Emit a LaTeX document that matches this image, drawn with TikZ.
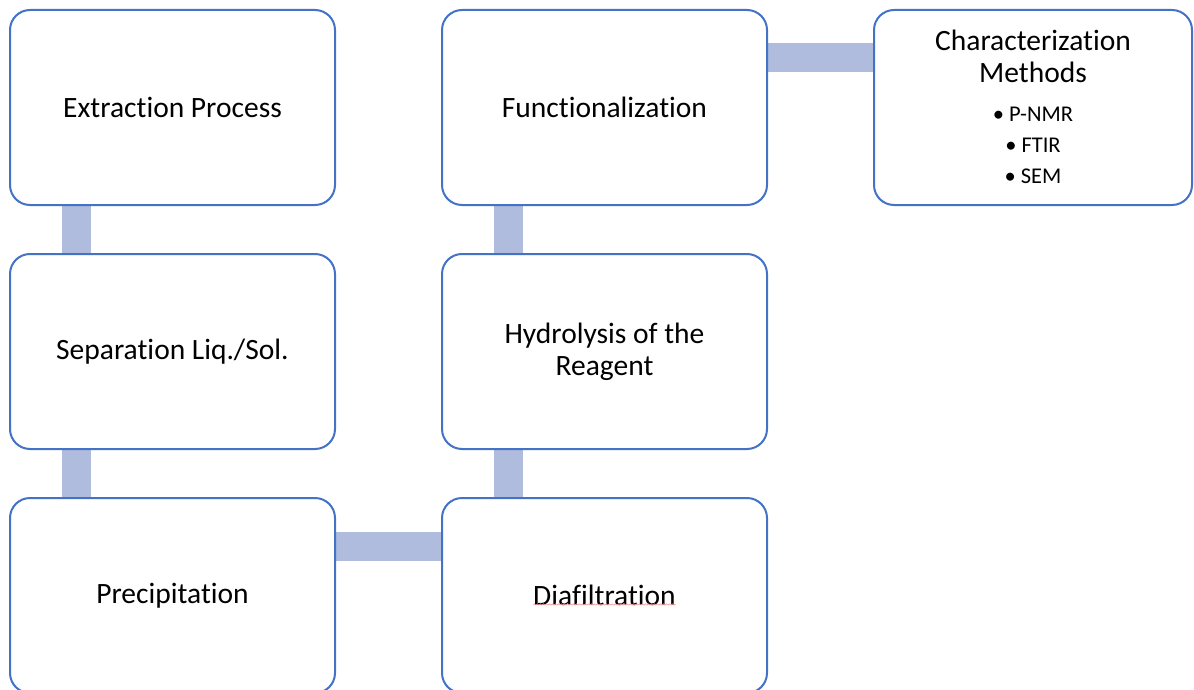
\documentclass[tikz,border=0pt]{standalone}
\usepackage{fontspec}
\setmainfont{Carlito}[Ligatures=NoCommon]
\usetikzlibrary{backgrounds,decorations.pathmorphing}
\definecolor{boxblue}{HTML}{4472C4}
\definecolor{barblue}{HTML}{AFBCDE}
\definecolor{spellred}{HTML}{F4A0A0}
\tikzset{
  stepbox/.style={draw=boxblue, line width=2pt, rounded corners=20pt, fill=white,
    minimum width=325pt, minimum height=195pt, inner sep=0pt, outer sep=0pt,
    align=center, font=\fontsize{29.5}{32}\selectfont},
  charbox/.style={stepbox, minimum width=318pt},
  bar/.style={draw=barblue, line width=29pt},
  bullets/.style={align=center, font=\fontsize{22.5}{31}\selectfont, inner sep=0pt},
  titletext/.style={align=center, font=\fontsize{29.5}{32}\selectfont, inner sep=0pt}
}
\begin{document}
\begin{tikzpicture}[x=1pt,y=-1pt]
\useasboundingbox (0,0) rectangle (1194,690);
\node[stepbox] (ext) at (172.5,107.5) {Extraction Process};
\node[stepbox] (fun) at (604.5,107.5) {Functionalization};
\node[charbox] (chr) at (1033,107.5) {};
\node[titletext] (chrt) at (1033,56) {Characterization\\Methods};
\node[bullets] (chrb) at (1033,145.5) {\textbullet\hspace{5pt}P-NMR\\\textbullet\hspace{5pt}FTIR\\\textbullet\hspace{5pt}SEM};
\node[stepbox] (sep) at (172.5,351.5) {Separation Liq./Sol.};
\node[stepbox] (hyd) at (604.5,351.5) {Hydrolysis of the\\Reagent};
\node[stepbox] (pre) at (172.5,595.5) {Precipitation};
\node[stepbox] (dia) at (604.5,595.5) {Diafiltration};
\begin{scope}[on background layer]
  \draw[bar] ([xshift=-96.5pt]ext.south) -- ([xshift=-96.5pt]sep.north);
  \draw[bar] ([xshift=-96.5pt]sep.south) -- ([xshift=-96.5pt]pre.north);
  \draw[bar] ([yshift=49.5pt]pre.east) -- ([yshift=49.5pt]dia.west);
  \draw[bar] ([xshift=-96.5pt]dia.north) -- ([xshift=-96.5pt]hyd.south);
  \draw[bar] ([xshift=-96.5pt]hyd.north) -- ([xshift=-96.5pt]fun.south);
  \draw[bar] ([yshift=49.5pt]fun.east) -- ([yshift=49.5pt]chr.west);
\end{scope}
\draw[spellred, line width=0.7pt, decorate, decoration={snake, amplitude=0.6pt, segment length=3pt}]
  ([xshift=-71pt,yshift=-9pt]dia.center) -- ([xshift=71pt,yshift=-9pt]dia.center);
\end{tikzpicture}
\end{document}
